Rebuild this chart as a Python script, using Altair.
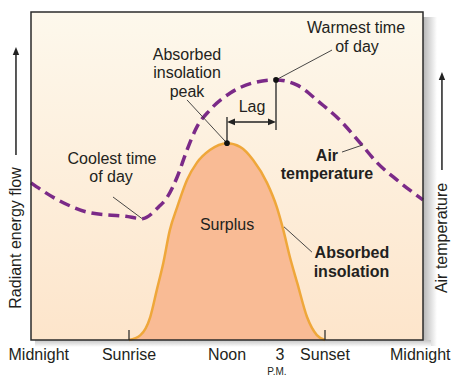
import altair as alt
import pandas as pd

# ---- data ----
# Absorbed insolation (relative radiant energy flow) by hour of day
ins_hours = [6.0, 6.7, 7.3, 7.7, 8.1, 8.5, 8.95, 9.55, 10.15, 10.95, 12.0,
             12.8, 13.6, 14.45, 15.05, 15.45, 15.85, 16.3, 16.9, 17.5, 18.0]
ins_values = [0.0, 0.015, 0.07, 0.152, 0.235, 0.335, 0.405, 0.488, 0.54, 0.579, 0.6,
              0.589, 0.549, 0.479, 0.405, 0.335, 0.253, 0.174, 0.07, 0.015, 0.0]

# Air temperature (relative) by hour of day
temp_hours = [0, 1.65, 3.7, 5.8, 6.8, 7.8, 8.35, 8.95, 9.55, 10.15, 10.95,
              12.2, 13.6, 15.0, 16.3, 17.7, 18.9, 20.15, 21.2, 22.4, 24]
temp_values = [0.479, 0.427, 0.387, 0.377, 0.370, 0.405, 0.436, 0.497, 0.579, 0.649, 0.701,
               0.753, 0.784, 0.793, 0.777, 0.723, 0.671, 0.601, 0.540, 0.488, 0.427]

# x tick labels
tick_hours = [6, 12, 15, 18]
tick_labels = ["Sunrise", "Noon", "3", "Sunset"]
edge_labels = ["Midnight", "Midnight"]
tick_marks = [6, 18]

# key points
peak_hour, peak_value = 12.0, 0.6
warm_hour, warm_value = 15.0, 0.793
cool_hour, cool_value = 6.8, 0.370

# annotation texts (regular)
ann_text = ["Coolest time", "of day", "Absorbed", "insolation", "peak", "Lag",
            "Warmest time", "of day", "Surplus"]
ann_h = [4.96, 4.9, 9.55, 9.55, 9.55, 13.53, 19.9, 19.96, 12.0]
ann_v = [0.552, 0.497, 0.869, 0.814, 0.756, 0.710, 0.951, 0.893, 0.351]
# annotation texts (bold)
bold_text = ["Air", "temperature", "Absorbed", "insolation"]
bold_h = [18.12, 18.12, 19.65, 19.62]
bold_v = [0.561, 0.506, 0.265, 0.207]

# leader lines
lead_h1 = [5.02, 9.55, 15.0, 19.04, 17.2]
lead_v1 = [0.436, 0.732, 0.793, 0.573, 0.268]
lead_h2 = [cool_hour, peak_hour, 18.43, 20.33, 15.49]
lead_v2 = [cool_value, peak_value, 0.884, 0.595, 0.345]

# lag markers
lag_h = [12.0, 15.0]
lag_v1 = [0.6, 0.64]
lag_v2 = [0.68, 0.793]
lag_arrow_v = 0.665

# side titles
side_text = ["Radiant energy flow", "Air temperature"]
side_h = [-0.92, 25.16]
side_v = [0.311, 0.311]
side_arrow_v1 = [0.564, 0.518]
side_arrow_v2 = [0.872, 0.797]
side_arrow_tip = [0.893, 0.817]

# ---- styles ----
FONT = "Liberation Sans"
TXT = "#231f20"
PURPLE = "#7b2a88"
ORANGE_FILL = "#f9bb95"
ORANGE_LINE = "#efa73a"

W, H = 392, 328
PAD_L, PAD_R = 23, 28
xs = alt.Scale(domain=[0, 24], nice=False, zero=False)
ys = alt.Scale(domain=[0, 1], nice=False, zero=False)

def X(f):
    return alt.X(f, type="quantitative", scale=xs, axis=None)

def Y(f):
    return alt.Y(f, type="quantitative", scale=ys, axis=None)

one = alt.Data(values=[{"a": 1}])

shadow_r = alt.Chart(one).mark_rect(
    fill={"gradient": "linear", "x1": 0, "y1": 0, "x2": 1, "y2": 0,
          "stops": [{"offset": 0, "color": "#b5b5b5"}, {"offset": 1, "color": "#ffffff"}]}
).encode(x=alt.value(W), x2=alt.value(W + 14), y=alt.value(5), y2=alt.value(H + 6))

shadow_b = alt.Chart(one).mark_rect(
    fill={"gradient": "linear", "x1": 0, "y1": 0, "x2": 0, "y2": 1,
          "stops": [{"offset": 0, "color": "#c4c4c4"}, {"offset": 1, "color": "#ffffff"}]}
).encode(x=alt.value(4), x2=alt.value(W + 8), y=alt.value(H), y2=alt.value(H + 7))

bg = alt.Chart(one).mark_rect(
    fill={"gradient": "linear", "x1": 0, "y1": 0, "x2": 0, "y2": 1,
          "stops": [{"offset": 0, "color": "#fdf8ec"}, {"offset": 1, "color": "#fde5cb"}]}
).encode(x=alt.value(0), x2=alt.value(W), y=alt.value(0), y2=alt.value(H))

ins_df = pd.DataFrame({"h": ins_hours, "v": ins_values})
area = alt.Chart(ins_df).mark_area(interpolate="monotone", fill=ORANGE_FILL).encode(x=X("h"), y=Y("v"))
ins_line = alt.Chart(ins_df).mark_line(interpolate="monotone", color=ORANGE_LINE, strokeWidth=2.5).encode(x=X("h"), y=Y("v"))

temp_df = pd.DataFrame({"h": temp_hours, "v": temp_values})
temp_line = alt.Chart(temp_df).mark_line(
    interpolate="monotone", color=PURPLE, strokeWidth=3.5, strokeDash=[11, 6]
).encode(x=X("h"), y=Y("v"))

ticks = alt.Chart(pd.DataFrame({"h": tick_marks})).mark_rule(color="#222", strokeWidth=1.2).encode(
    x=X("h"), y=alt.value(H - 10), y2=alt.value(H))

lead_df = pd.DataFrame({"h": lead_h1, "v": lead_v1, "h2": lead_h2, "v2": lead_v2})
leaders = alt.Chart(lead_df).mark_rule(color="#333", strokeWidth=0.9).encode(
    x=X("h"), y=Y("v"), x2="h2", y2="v2")

lag_df = pd.DataFrame({"h": lag_h, "v": lag_v1, "v2": lag_v2})
lag_rules = alt.Chart(lag_df).mark_rule(color="#222", strokeWidth=1.3).encode(x=X("h"), y=Y("v"), y2="v2")

lag_arrow = alt.Chart(pd.DataFrame({"h": [lag_h[0] + 0.3], "h2": [lag_h[1] - 0.3], "v": [lag_arrow_v]})).mark_rule(
    color="#222", strokeWidth=1.5).encode(x=X("h"), x2="h2", y=Y("v"))
head_r = alt.Chart(pd.DataFrame({"h": [lag_h[1]], "v": [lag_arrow_v]})).mark_point(
    shape="M0,0L-1,-0.42L-1,0.42Z", filled=True, size=256, color="#222", opacity=1).encode(x=X("h"), y=Y("v"))
head_l = alt.Chart(pd.DataFrame({"h": [lag_h[0]], "v": [lag_arrow_v]})).mark_point(
    shape="M0,0L1,-0.42L1,0.42Z", filled=True, size=256, color="#222", opacity=1).encode(x=X("h"), y=Y("v"))

dots = alt.Chart(pd.DataFrame({"h": [peak_hour, warm_hour], "v": [peak_value, warm_value]})).mark_point(
    shape="circle", filled=True, size=32, color="#111", opacity=1).encode(x=X("h"), y=Y("v"))

ann_df = pd.DataFrame({"h": ann_h, "v": ann_v, "t": ann_text})
ann = alt.Chart(ann_df).mark_text(font=FONT, fontSize=16, color=TXT, baseline="middle", align="center").encode(
    x=X("h"), y=Y("v"), text="t:N")
bold_df = pd.DataFrame({"h": bold_h, "v": bold_v, "t": bold_text})
bold = alt.Chart(bold_df).mark_text(font=FONT, fontSize=16, fontWeight="bold", color=TXT, baseline="middle", align="center").encode(
    x=X("h"), y=Y("v"), text="t:N")

lab_df = pd.DataFrame({"h": tick_hours, "t": tick_labels})
labels = alt.Chart(lab_df).transform_filter(alt.datum.t != "3").mark_text(
    font=FONT, fontSize=16, color=TXT, baseline="middle", align="center").encode(
    x=X("h"), y=alt.value(H + 15), text="t:N")
three = alt.Chart(lab_df).transform_filter(alt.datum.t == "3").mark_text(
    font=FONT, fontSize=16, color=TXT, baseline="middle", align="center", dx=4).encode(
    x=X("h"), y=alt.value(H + 15), text="t:N")
pm = alt.Chart(pd.DataFrame({"h": [15], "t": ["P.M."]})).mark_text(
    font=FONT, fontSize=10, color=TXT, baseline="middle", align="center", dx=1).encode(
    x=X("h"), y=alt.value(H + 32), text="t:N")
mid_l = alt.Chart(pd.DataFrame({"t": [edge_labels[0]]})).mark_text(
    font=FONT, fontSize=16, color=TXT, baseline="middle", align="left").encode(
    x=alt.value(-PAD_L + 0.5), y=alt.value(H + 15), text="t:N")
mid_r = alt.Chart(pd.DataFrame({"t": [edge_labels[1]]})).mark_text(
    font=FONT, fontSize=16, color=TXT, baseline="middle", align="right").encode(
    x=alt.value(W + PAD_R - 0.5), y=alt.value(H + 15), text="t:N")

side_df = pd.DataFrame({"h": side_h, "v": side_v, "t": side_text,
                        "a1": side_arrow_v1, "a2": side_arrow_v2, "tip": side_arrow_tip})
side_titles = alt.Chart(side_df).mark_text(font=FONT, fontSize=16, color=TXT, angle=270,
                                           baseline="middle", align="center").encode(
    x=X("h"), y=Y("v"), text="t:N")
side_lines = alt.Chart(side_df).mark_rule(color="#222", strokeWidth=1.5).encode(x=X("h"), y=Y("a1"), y2="a2")
side_heads = alt.Chart(side_df).mark_point(shape="M0,0L-0.4,1L0.4,1Z", filled=True, size=256,
                                           color="#222", opacity=1).encode(x=X("h"), y=Y("tip"))

frame = alt.Chart(one).mark_rect(fillOpacity=0, stroke="#2b2b2b", strokeWidth=1.5).encode(
    x=alt.value(0), x2=alt.value(W), y=alt.value(0), y2=alt.value(H))

chart = alt.layer(
    shadow_r, shadow_b, bg, area, ins_line, temp_line, ticks, leaders, lag_rules, lag_arrow,
    head_r, head_l, dots, ann, bold, labels, three, pm, mid_l, mid_r,
    side_titles, side_lines, side_heads, frame
).properties(
    width=W, height=H,
    autosize=alt.AutoSizeParams(type="none"),
    padding={"left": PAD_L, "top": 4, "right": PAD_R, "bottom": 40},
).configure_view(stroke=None)

chart.save("out.html", embed_options={"renderer": "svg", "actions": False})
